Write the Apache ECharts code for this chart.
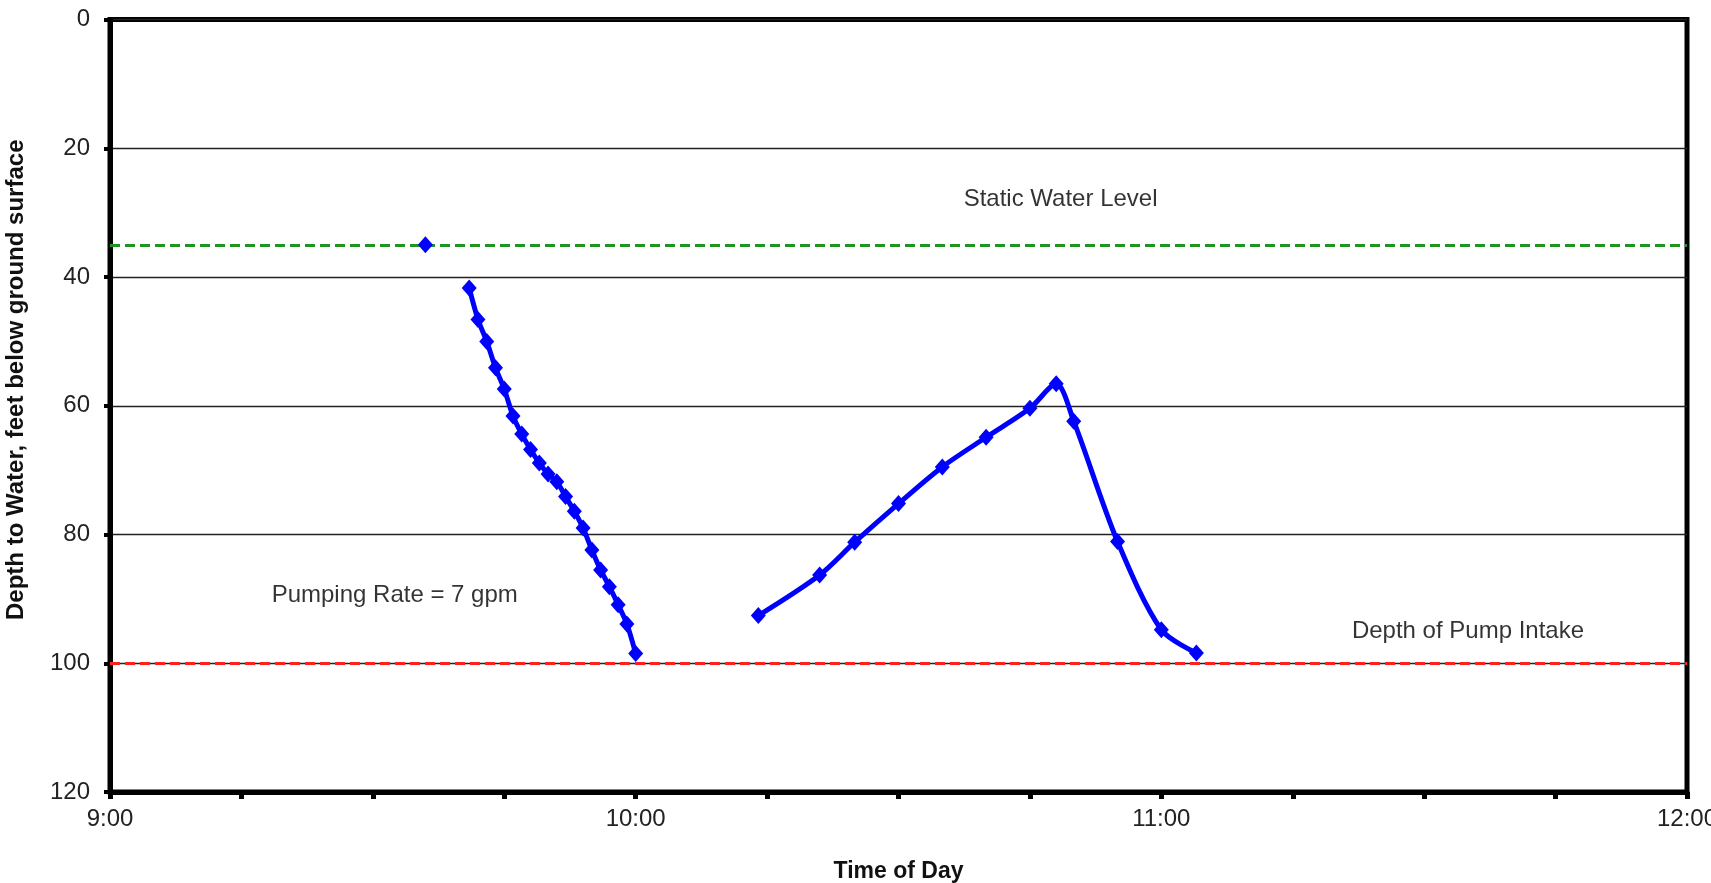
<!DOCTYPE html>
<html>
<head>
<meta charset="utf-8">
<script src="https://cdn.jsdelivr.net/npm/echarts@6/dist/echarts.min.js"></script>
<style>
html,body{margin:0;padding:0;background:#fff;}
#chart{width:1711px;height:883px;}
</style>
</head>
<body>
<div id="chart"></div>
<script>
// ---- data ----
const staticTimes = ['9:36'];
const staticDepths = [35];
const run1Times = ['9:41','9:42','9:43','9:44','9:45','9:46','9:47','9:48','9:49','9:50','9:51','9:52','9:53','9:54','9:55','9:56','9:57','9:58','9:59','10:00'];
const run1Depths = [41.7,46.6,50.0,54.1,57.4,61.6,64.4,66.8,68.9,70.6,71.8,74.1,76.4,79.0,82.4,85.5,88.1,90.9,93.9,98.5];
const run2Times = ['10:14','10:21','10:25','10:30','10:35','10:40','10:45','10:48','10:50','10:55','11:00','11:04'];
const run2Depths = [92.6,86.3,81.2,75.2,69.5,64.9,60.4,56.6,62.4,81.1,94.8,98.4];
const staticWaterLevel = 35;
const pumpIntakeDepth = 100;
const annotationTexts = ['Static Water Level','Pumping Rate = 7 gpm','Depth of Pump Intake'];
const annotationTimes = ['10:48.5','9:32.5','11:35'];
const annotationDepths = [28,89.5,95];
const xTickLabels = ['9:00','10:00','11:00','12:00'];

function toMin(s){ const p = s.split(':'); return parseInt(p[0],10)*60 + parseFloat(p[1]); }
function pairs(ts, ds){ return ts.map((t,i)=>[toMin(t), ds[i]]); }

const blue = '#0000ff';
const font = '"Liberation Sans", Arial, sans-serif';

const chart = echarts.init(document.getElementById('chart'));
const lineBase = {
  type:'line', smooth:0.3, symbol:'diamond', symbolSize:[15,17],
  lineStyle:{color:blue,width:5}, itemStyle:{color:blue}, z:5, animation:false
};
chart.setOption({
  animation:false,
  grid:{left:110,right:24,top:19.5,bottom:91,containLabel:false,outerBoundsMode:'none',
    show:true,borderColor:'#000',borderWidth:5,backgroundColor:'transparent'},
  xAxis:{
    type:'value', min:toMin(xTickLabels[0]), max:toMin(xTickLabels[xTickLabels.length-1]), interval:15,
    axisLine:{onZero:false,lineStyle:{color:'#000',width:5}},
    axisTick:{show:true,length:7,lineStyle:{color:'#000',width:5}},
    axisLabel:{margin:15,fontSize:24,color:'#222',fontFamily:font,
      formatter:v=>{ const lbl = xTickLabels.find(l=>toMin(l)===v); return lbl||''; }},
    splitLine:{show:false},
    name:'Time of Day', nameLocation:'middle', nameGap:68,
    nameTextStyle:{fontSize:23,fontWeight:'bold',color:'#111',fontFamily:font}
  },
  yAxis:{
    type:'value', inverse:true, min:0, max:120, interval:20,
    axisLine:{onZero:false,lineStyle:{color:'#000',width:5}},
    axisTick:{show:true,length:6,lineStyle:{color:'#000',width:4}},
    axisLabel:{margin:20,fontSize:24,color:'#222',fontFamily:font},
    splitLine:{show:true,lineStyle:{color:'#222',width:1.3}},
    name:'Depth to Water, feet below ground surface', nameLocation:'middle', nameGap:82, nameRotate:90,
    nameTextStyle:{fontSize:24,fontWeight:'bold',color:'#111',fontFamily:font,padding:[0,0,0,52]}
  },
  series:[
    {type:'line', data:[], silent:true, z:3,
      markLine:{silent:true, symbol:'none', label:{show:false},
        data:[
          {yAxis:staticWaterLevel, lineStyle:{color:'#1e961e',width:3,type:[10,5]}},
          {yAxis:pumpIntakeDepth, lineStyle:{color:'#ff2020',width:3,type:[10,5]}}
        ]}
    },
    Object.assign({}, lineBase, {data:pairs(staticTimes, staticDepths)}),
    Object.assign({}, lineBase, {data:pairs(run1Times, run1Depths)}),
    Object.assign({}, lineBase, {data:pairs(run2Times, run2Depths)}),
    {type:'scatter', symbolSize:1, itemStyle:{color:'transparent'}, silent:true, z:6,
      data:annotationTexts.map((t,i)=>({name:t, value:[toMin(annotationTimes[i]), annotationDepths[i]]})),
      label:{show:true, position:'inside', formatter:'{b}', fontSize:24, color:'#000', textBorderWidth:0, fontFamily:font}
    }
  ]
});
</script>
</body>
</html>
